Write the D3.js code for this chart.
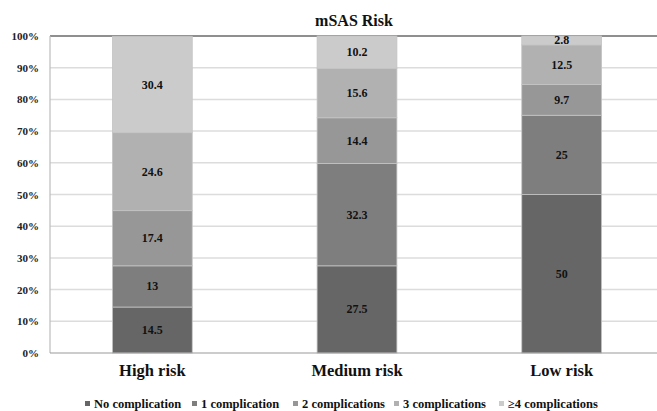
<!DOCTYPE html>
<html><head><meta charset="utf-8">
<script src="https://cdn.jsdelivr.net/npm/d3@7"></script>
<style>body{margin:0;background:#fff}svg{display:block}text{font-family:"Liberation Serif","Times New Roman",serif;font-weight:bold}</style>
</head><body><svg id="c" width="657" height="411"></svg>
<script>
const categories = ["High risk", "Medium risk", "Low risk"];
const series = ["No complication", "1 complication", "2 complications", "3 complications", "\u22654 complications"];
const noComplication = [14.5, 27.5, 50];
const oneComplication = [13, 32.3, 25];
const twoComplications = [17.4, 14.4, 9.7];
const threeComplications = [24.6, 15.6, 12.5];
const fourPlusComplications = [30.4, 10.2, 2.8];
const yTicks = [0, 10, 20, 30, 40, 50, 60, 70, 80, 90, 100];
const colors = ["#666666", "#7e7e7e", "#979797", "#b1b1b1", "#cbcbcb"];

const values = [noComplication, oneComplication, twoComplications, threeComplications, fourPlusComplications];
const table = categories.map((c, i) => {
  const o = {cat: c};
  series.forEach((s, j) => o[s] = values[j][i]);
  return o;
});

const svg = d3.select("#c");
const pL = 50, pR = 664, pT = 36, pB = 353;
const x = d3.scaleBand().domain(categories).range([pL, pR]).paddingInner(0.61).paddingOuter(0.305);
const y = d3.scaleLinear().domain([0, 100]).range([pB, pT]);

// gridlines
svg.append("g").selectAll("line").data(yTicks.filter(t => t > 0)).join("line")
  .attr("x1", pL).attr("x2", pR)
  .attr("y1", d => y(d)).attr("y2", d => y(d))
  .attr("stroke", d => d === 100 ? "#6a6a6a" : "#dcdcdc")
  .attr("stroke-width", 1.5);

const stack = d3.stack().keys(series)(table);
const g = svg.append("g");
stack.forEach((layer, j) => {
  g.selectAll(null).data(layer).join("rect")
    .attr("x", d => x(d.data.cat))
    .attr("width", x.bandwidth())
    .attr("y", d => y(Math.min(d[1], 100)))
    .attr("height", d => y(d[0]) - y(Math.min(d[1], 100)))
    .attr("fill", colors[j])
    .attr("stroke", "#c4c4c4").attr("stroke-width", 0.8);
});
stack.forEach((layer, j) => {
  g.selectAll(null).data(layer).join("text")
    .attr("x", d => x(d.data.cat) + x.bandwidth() / 2)
    .attr("y", d => (y(d[0]) + y(Math.min(d[1], 100))) / 2 + 4)
    .attr("text-anchor", "middle")
    .style("font-size", "12px")
    .attr("fill", "#111")
    .text(d => d.data[series[j]]);
});

// axes lines
svg.append("line").attr("x1", pL).attr("x2", pL).attr("y1", pT).attr("y2", pB).attr("stroke", "#bdbdbd").attr("stroke-width", 1.2);
svg.append("line").attr("x1", pL).attr("x2", pR).attr("y1", pB).attr("y2", pB).attr("stroke", "#9a9a9a").attr("stroke-width", 1.2);

// y tick labels
const yAxis = d3.axisLeft(y).tickValues(yTicks).tickFormat(d => d + "%").tickSize(0).tickPadding(11);
const ya = svg.append("g").attr("transform", `translate(${pL},0)`).call(yAxis);
ya.select(".domain").remove();
ya.selectAll("text").style("font-size", "11px").attr("fill", "#222");

// x axis labels
const xAxis = d3.axisBottom(x).tickSize(0).tickPadding(11);
const xa = svg.append("g").attr("transform", `translate(0,${pB})`).call(xAxis);
xa.select(".domain").remove();
xa.selectAll("text").style("font-size", "16.5px").attr("fill", "#111");

// title
svg.append("text").attr("x", 354).attr("y", 26).attr("text-anchor", "middle").style("font-size", "16px").attr("fill", "#111").text("mSAS Risk");

// legend
const legX = [85, 192, 293, 394, 499];
const leg = svg.append("g");
series.forEach((s, j) => {
  leg.append("rect").attr("x", legX[j]).attr("y", 401).attr("width", 5).attr("height", 5).attr("fill", colors[j]);
  leg.append("text").attr("x", legX[j] + 9).attr("y", 408).style("font-size", "12.5px").attr("fill", "#111").text(s);
});
</script></body></html>
